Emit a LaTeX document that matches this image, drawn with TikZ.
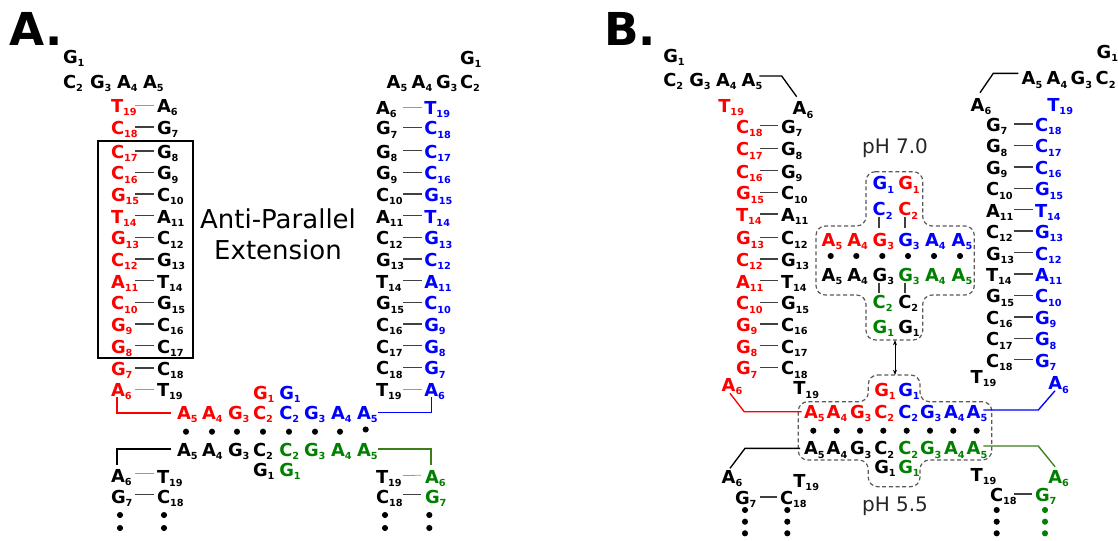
\documentclass[tikz,border=0pt]{standalone}
\usepackage{fontspec}
\setmainfont{DejaVu Sans}
\usetikzlibrary{arrows.meta}
\definecolor{nred}{RGB}{255,0,0}
\definecolor{nblue}{RGB}{0,0,255}
\definecolor{ngreen}{RGB}{0,128,0}
\definecolor{gline}{RGB}{60,125,30}
\newcommand\nuc[2]{#1\raisebox{-2.4pt}{\fontsize{7.3}{7.3}\selectfont #2}}
\tikzset{
 nt/.style={inner sep=0pt, outer sep=0pt, anchor=base west, yshift=-4.9pt, font=\fontsize{13.4}{14}\selectfont\bfseries},
 bp/.style={draw=black!75, line width=1pt},
 bpw/.style={draw=black!40, line width=0.6pt},
 conn/.style={line width=1pt},
 dbox/.style={draw=black!65, dash pattern=on 3pt off 2pt, line width=0.9pt, rounded corners=7pt},
 ndot/.style={fill=black},
 plabel/.style={inner sep=0pt, anchor=base west, font=\fontsize{34}{34}\selectfont\bfseries},
 phlab/.style={inner sep=0pt, anchor=base, font=\fontsize{15}{15}\selectfont, text=black!85},
}
\begin{document}
\begin{tikzpicture}[x=0.75pt,y=-0.75pt]
\useasboundingbox (0,0) rectangle (1118,540);
\node[plabel] (labA) at (9,45) {A.};
\node[plabel] (labB) at (604,45) {B.};

% ================= Panel A =================
% top-left header
\node[nt] (aLG1) at (63,57) {\nuc{G}{1}};
\foreach \n/\x/\l/\s in {aLC2/63/C/2, aLG3/90/G/3, aLA4/117/A/4, aLA5/143/A/5}
  \node[nt] (\n) at (\x,81.5) {\nuc{\l}{\s}};
% left column
\foreach \i/\y/\rl/\rs/\bl/\bs/\st in {0/106/T/19/A/6/bpw, 1/128/C/18/G/7/bp, 2/152/C/17/G/8/bp, 3/173.3/C/16/G/9/bp, 4/195/G/15/C/10/bp, 5/216.7/T/14/A/11/bp, 6/238.3/G/13/C/12/bp, 7/260/C/12/G/13/bp, 8/281.7/A/11/T/14/bp, 9/303.3/C/10/G/15/bp, 10/325/G/9/C/16/bp, 11/346.7/G/8/C/17/bp, 12/369/G/7/C/18/bp, 13/390/A/6/T/19/bpw}{
  \node[nt,text=nred] (aLr\i) at (111,\y) {\nuc{\rl}{\rs}};
  \node[nt] (aLb\i) at (157,\y) {\nuc{\bl}{\bs}};
  \draw[\st] ([shift={(24,-7.5)}]aLr\i.base west) -- ([shift={(-3.5,-7.5)}]aLb\i.base west);
}
\draw[line width=1pt] (98,141) rectangle (193,358);
\node[inner sep=0pt, anchor=base, font=\fontsize{19.5}{20}\selectfont] (ape1) at (278,228.3) {Anti-Parallel};
\node[inner sep=0pt, anchor=base, font=\fontsize{19.5}{20}\selectfont] (ape2) at (278,259.3) {Extension};

% top-right header
\node[nt] (aRG1) at (460,58) {\nuc{G}{1}};
\foreach \n/\x/\l/\s in {aRA5/386.7/A/5, aRA4/411.7/A/4, aRG3/436/G/3, aRC2/460/C/2}
  \node[nt] (\n) at (\x,81.7) {\nuc{\l}{\s}};
% right column
\foreach \i/\y/\kl/\ks/\bl/\bs/\st in {0/108/A/6/T/19/bpw, 1/128.3/G/7/C/18/bp, 2/151.7/G/8/C/17/bp, 3/173.3/G/9/C/16/bp, 4/195/C/10/G/15/bp, 5/216.7/A/11/T/14/bp, 6/238.3/C/12/G/13/bp, 7/260/G/13/C/12/bp, 8/281.7/T/14/A/11/bp, 9/303.3/G/15/C/10/bp, 10/325/C/16/G/9/bp, 11/346.7/C/17/G/8/bp, 12/368.3/C/18/G/7/bp, 13/390/T/19/A/6/bpw}{
  \node[nt] (aRk\i) at (376,\y) {\nuc{\kl}{\ks}};
  \node[nt,text=nblue] (aRb\i) at (424.3,\y) {\nuc{\bl}{\bs}};
  \draw[\st] ([shift={(27,-7.5)}]aRk\i.base west) -- ([shift={(-2.5,-7.5)}]aRb\i.base west);
}

% middle rows
\node[nt,text=nred] (amrG1) at (253,393) {\nuc{G}{1}};
\node[nt,text=nblue] (ambG1) at (279.3,393) {\nuc{G}{1}};
\foreach \n/\x/\c/\l/\s in {amrA5/177/nred/A/5, amrA4/202/nred/A/4, amrG3/228/nred/G/3, amrC2/253/nred/C/2, ambC2/279.3/nblue/C/2, ambG3/304/nblue/G/3, ambA4/331/nblue/A/4, ambA5/357/nblue/A/5}
  \node[nt,text=\c] (\n) at (\x,413) {\nuc{\l}{\s}};
\foreach \x in {186,212,237,263,289,315,340} \fill[ndot] (\x,431.7) circle[radius=2.3pt];
\fill[ndot] (365.7,429.5) circle[radius=2.3pt];
\foreach \n/\x/\c/\l/\s in {amkA5/177/black/A/5, amkA4/202/black/A/4, amkG3/228/black/G/3, amkC2/253/black/C/2, amgC2/279.3/ngreen/C/2, amgG3/304/ngreen/G/3, amgA4/331/ngreen/A/4, amgA5/357/ngreen/A/5}
  \node[nt,text=\c] (\n) at (\x,450) {\nuc{\l}{\s}};
\node[nt] (amkG1) at (253,470) {\nuc{G}{1}};
\node[nt,text=ngreen] (amgG1) at (279.3,470) {\nuc{G}{1}};

% bottom-left strand
\node[nt] (ablA6) at (111,476) {\nuc{A}{6}};
\node[nt] (ablT19) at (157,477) {\nuc{T}{19}};
\node[nt] (ablG7) at (111,496.7) {\nuc{G}{7}};
\node[nt] (ablC18) at (157,496.7) {\nuc{C}{18}};
\draw[bpw] ([shift={(24,-9)}]ablA6.base west) -- ([shift={(-3.5,-10)}]ablT19.base west);
\draw[bp] ([shift={(24,-9)}]ablG7.base west) -- ([shift={(-3.5,-9)}]ablC18.base west);
\foreach \x in {120,164} \foreach \y in {515,528} \fill[ndot] (\x,\y) circle[radius=2.3pt];

% bottom-right strand
\node[nt] (abrT19) at (376,477) {\nuc{T}{19}};
\node[nt,text=ngreen] (abrA6) at (425,476.7) {\nuc{A}{6}};
\node[nt] (abrC18) at (376,496.7) {\nuc{C}{18}};
\node[nt,text=ngreen] (abrG7) at (425,496.7) {\nuc{G}{7}};
\draw[bpw] ([shift={(27,-8)}]abrT19.base west) -- ([shift={(-4,-8)}]abrA6.base west);
\draw[bp] ([shift={(27,-9)}]abrC18.base west) -- ([shift={(-4,-9)}]abrG7.base west);
\foreach \x in {385,429.3} \foreach \y in {515,528} \fill[ndot] (\x,\y) circle[radius=2.3pt];

% connectors panel A
\draw[conn,nred] ([shift={(6,0.5)}]aLr13.base west) |- ([shift={(-6,-6.5)}]amrA5.base west);
\draw[conn,black] ([shift={(-6,-7.5)}]amkA5.base west) -| ([shift={(6,-17.5)}]ablA6.base west);
\draw[conn,nblue] ([shift={(21,-7)}]ambA5.base west) -| ([shift={(7.4,0.2)}]aRb13.base west);
\draw[conn,gline] ([shift={(21,-7.5)}]amgA5.base west) -| ([shift={(6,-18.2)}]abrA6.base west);

% ================= Panel B =================
% top-left header
\node[nt] (bLG1) at (663.3,56) {\nuc{G}{1}};
\foreach \n/\x/\l/\s in {bLC2/663.3/C/2, bLG3/689.3/G/3, bLA4/716/A/4, bLA5/741.7/A/5}
  \node[nt] (\n) at (\x,80) {\nuc{\l}{\s}};
\node[nt,text=nred] (bLT19) at (718.3,106) {\nuc{T}{19}};
\node[nt] (bLA6) at (792.7,108.3) {\nuc{A}{6}};
\draw[conn] ([shift={(17.6,-10.5)}]bLA5.base west) -- ++(22.4,0) -- ([shift={(4,-18.1)}]bLA6.base west);
% left column
\foreach \i/\y/\rl/\rs/\bl/\bs in {1/126.7/C/18/G/7, 2/149.3/C/17/G/8, 3/171.5/C/16/G/9, 4/193.3/G/15/C/10, 5/215/T/14/A/11, 6/238.3/G/13/C/12, 7/260/C/12/G/13, 8/281.7/A/11/T/14, 9/303.3/C/10/G/15, 10/325/G/9/C/16, 11/346.7/G/8/C/17, 12/368.3/G/7/C/18}{
  \node[nt,text=nred] (bLr\i) at (736,\y) {\nuc{\rl}{\rs}};
  \node[nt] (bLb\i) at (781,\y) {\nuc{\bl}{\bs}};
  \draw[bp] ([shift={(24,-7.5)}]bLr\i.base west) -- ([shift={(-2.7,-7.5)}]bLb\i.base west);
}
\node[nt,text=nred] (bLrA6) at (721.7,385) {\nuc{A}{6}};
\node[nt] (bLbT19) at (793.3,388.3) {\nuc{T}{19}};

% top-right header
\node[nt] (bRG1) at (1096.7,51.7) {\nuc{G}{1}};
\foreach \n/\x/\l/\s in {bRA5/1021.7/A/5, bRA4/1046.7/A/4, bRG3/1070.7/G/3, bRC2/1095.7/C/2}
  \node[nt] (\n) at (\x,78.3) {\nuc{\l}{\s}};
\node[nt] (bRA6) at (970.7,105) {\nuc{A}{6}};
\node[nt,text=nblue] (bRT19) at (1047.3,105) {\nuc{T}{19}};
\draw[conn] ([shift={(-3.4,-11.5)}]bRA5.base west) -- ++(-25,0) -- ([shift={(9.3,-18.8)}]bRA6.base west);
% right column
\foreach \i/\y/\kl/\ks/\bl/\bs in {1/125/G/7/C/18, 2/146.4/G/8/C/17, 3/167.9/G/9/C/16, 4/189.3/C/10/G/15, 5/210.7/A/11/T/14, 6/232.1/C/12/G/13, 7/253.6/G/13/C/12, 8/275/T/14/A/11, 9/296.4/G/15/C/10, 10/317.9/C/16/G/9, 11/339.3/C/17/G/8, 12/360.7/C/18/G/7}{
  \node[nt] (bRk\i) at (986,\y) {\nuc{\kl}{\ks}};
  \node[nt,text=nblue] (bRb\i) at (1035,\y) {\nuc{\bl}{\bs}};
  \draw[bp] ([shift={(28,-7.5)}]bRk\i.base west) -- ([shift={(-1.7,-7.5)}]bRb\i.base west);
}
\node[nt] (bRkT19) at (970.7,376.7) {\nuc{T}{19}};
\node[nt,text=nblue] (bRbA6) at (1048.3,383.3) {\nuc{A}{6}};

% upper complex (pH 7.0)
\node[phlab] (ph7) at (895,153.3) {pH 7.0};
\draw[dbox] (866,171.7) -- (922.7,171.7) -- (922.7,226) -- (974.3,226) -- (974.3,295) -- (922.7,295) -- (922.7,340) -- (866,340) -- (866,295) -- (816,295) -- (816,226) -- (866,226) -- cycle;
\node[nt,text=nblue] (buG1b) at (872.7,183.3) {\nuc{G}{1}};
\node[nt,text=nred] (buG1r) at (898.3,183.3) {\nuc{G}{1}};
\node[nt,text=nblue] (buC2b) at (872.7,209.3) {\nuc{C}{2}};
\node[nt,text=nred] (buC2r) at (898.3,209.3) {\nuc{C}{2}};
\foreach \n/\x/\c/\l/\s in {burA5/821.7/nred/A/5, burA4/847.3/nred/A/4, burG3/872.7/nred/G/3, bubG3/898.3/nblue/G/3, bubA4/925/nblue/A/4, bubA5/951.7/nblue/A/5}
  \node[nt,text=\c] (\n) at (\x,240) {\nuc{\l}{\s}};
\foreach \x in {830.7,856.3,882.3,908,934,960} \fill[ndot] (\x,256) circle[radius=2.3pt];
\foreach \n/\x/\c/\l/\s in {bukA5/821.7/black/A/5, bukA4/847.3/black/A/4, bukG3/872.7/black/G/3, bugG3/898.3/ngreen/G/3, bugA4/925/ngreen/A/4, bugA5/951.7/ngreen/A/5}
  \node[nt,text=\c] (\n) at (\x,275) {\nuc{\l}{\s}};
\node[nt,text=ngreen] (bugC2) at (872.7,301.7) {\nuc{C}{2}};
\node[nt] (bukC2) at (898.3,301.7) {\nuc{C}{2}};
\node[nt,text=ngreen] (bugG1) at (872.7,326.7) {\nuc{G}{1}};
\node[nt] (bukG1) at (898.3,326.7) {\nuc{G}{1}};
\draw[bp] ([shift={(6.3,0.9)}]buC2b.base west) -- ([shift={(6.3,-18.2)}]burG3.base west);
\draw[bp] ([shift={(6.7,0.9)}]buC2r.base west) -- ([shift={(6.7,-18.2)}]bubG3.base west);
\draw[bp] ([shift={(6.3,1.2)}]bukG3.base west) -- ([shift={(6.3,-14.9)}]bugC2.base west);
\draw[bp] ([shift={(6.7,1.2)}]bugG3.base west) -- ([shift={(6.7,-14.9)}]bukC2.base west);

% lower complex (pH 5.5)
\draw[dbox] (868.3,375) -- (920,375) -- (920,401.7) -- (991.7,401.7) -- (991.7,460) -- (920,460) -- (920,486.7) -- (868.3,486.7) -- (868.3,460) -- (798.3,460) -- (798.3,401.7) -- (868.3,401.7) -- cycle;
\node[phlab] (ph55) at (895,511.7) {pH 5.5};
\coordinate (boxUb) at (895,340);
\coordinate (boxLt) at (895,375);
\draw[{Stealth[length=4pt,width=3pt]}-{Stealth[length=4pt,width=3pt]}, line width=0.6pt] (boxUb) -- (boxLt);
\node[nt,text=nred] (blrG1) at (874.3,390) {\nuc{G}{1}};
\node[nt,text=nblue] (blbG1) at (898.3,390) {\nuc{G}{1}};
\foreach \n/\x/\c/\l/\s in {blrA5/804/nred/A/5, blrA4/826.7/nred/A/4, blrG3/850/nred/G/3, blrC2/874.3/nred/C/2, blbC2/898.3/nblue/C/2, blbG3/920/nblue/G/3, blbA4/944/nblue/A/4, blbA5/966.7/nblue/A/5}
  \node[nt,text=\c] (\n) at (\x,411.7) {\nuc{\l}{\s}};
\foreach \x in {813.3,836.7,860,883.3,906.7,930,953.3,976.7} \fill[ndot] (\x,430.7) circle[radius=2.3pt];
\foreach \n/\x/\c/\l/\s in {blkA5/804/black/A/5, blkA4/826.7/black/A/4, blkG3/850/black/G/3, blkC2/874.3/black/C/2, blgC2/898.3/ngreen/C/2, blgG3/920/ngreen/G/3, blgA4/944/ngreen/A/4, blgA5/966.7/ngreen/A/5}
  \node[nt,text=\c] (\n) at (\x,448.3) {\nuc{\l}{\s}};
\node[nt] (blkG1) at (874.3,466.7) {\nuc{G}{1}};
\node[nt,text=ngreen] (blgG1) at (898.3,466.7) {\nuc{G}{1}};

% bottom-left strand B
\node[nt] (bblA6) at (721.7,476.7) {\nuc{A}{6}};
\node[nt] (bblT19) at (793.3,480.7) {\nuc{T}{19}};
\node[nt] (bblG7) at (735,498) {\nuc{G}{7}};
\node[nt] (bblC18) at (780,498) {\nuc{C}{18}};
\draw[bp] ([shift={(25,-7.5)}]bblG7.base west) -- ([shift={(-3.3,-7.5)}]bblC18.base west);
\foreach \x in {745,787.3} \foreach \y in {510,521.7,533.3} \fill[ndot] (\x,\y) circle[radius=2.3pt];

% bottom-right strand B
\node[nt] (bbrT19) at (970.7,475) {\nuc{T}{19}};
\node[nt,text=ngreen] (bbrA6) at (1048.3,476.7) {\nuc{A}{6}};
\node[nt] (bbrC18) at (990,495) {\nuc{C}{18}};
\node[nt,text=ngreen] (bbrG7) at (1035,495) {\nuc{G}{7}};
\draw[bp] ([shift={(24,-7.5)}]bbrC18.base west) -- ([shift={(-3.3,-7.5)}]bbrG7.base west);
\foreach \y in {510,521.7,533.3} {\fill[ndot] (996.7,\y) circle[radius=2.3pt]; \fill[ngreen] (1045,\y) circle[radius=2.3pt];}

% connectors panel B
\draw[conn,nred] ([shift={(8.3,1.8)}]bLrA6.base west) -- ++(14.3,18.4) -- ([shift={(-2.3,-6.5)}]blrA5.base west);
\draw[conn,black] ([shift={(-4,-6.5)}]blkA5.base west) -- ++(-55,0) -- ([shift={(8.3,-14.9)}]bblA6.base west);
\draw[conn,nblue] ([shift={(6.7,0.9)}]bRbA6.base west) -- ++(-16.7,19.3) -- ([shift={(16.6,-8.2)}]blbA5.base west);
\draw[conn,gline] ([shift={(16.6,-8.8)}]blgA5.base west) -- ++(55,0) -- ([shift={(6.7,-16.5)}]bbrA6.base west);
\end{tikzpicture}
\end{document}
